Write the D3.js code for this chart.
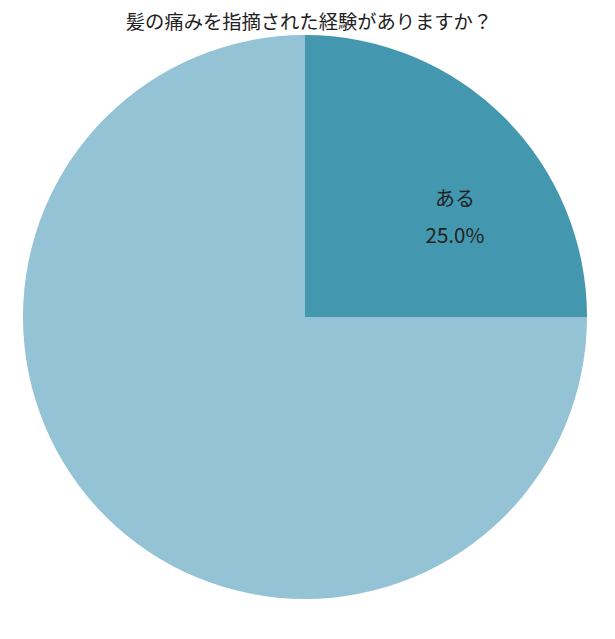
<!DOCTYPE html>
<html><head><meta charset="utf-8">
<script src="https://cdn.jsdelivr.net/npm/d3@7"></script>
<style>
html,body{margin:0;padding:0;background:#fff;}
text{font-family:"Noto Sans CJK JP","Noto Sans",sans-serif;}
</style></head>
<body><svg id="c" width="615" height="639"></svg>
<script>
const title = "髪の痛みを指摘された経験がありますか？";
const categories = ["ある", "ない"];
const values = [25.0, 75.0];
const colors = ["#4397ae", "#93c3d5"];
const showLabel = [true, false];

const svg = d3.select("#c");
const cx = 305, cy = 317, R = 282;

svg.append("text").attr("x", 309).attr("y", 29).attr("text-anchor", "middle")
  .attr("font-size", 19.3).attr("fill", "#222").text(title);

const data = categories.map((c, i) => ({cat: c, val: values[i], color: colors[i], show: showLabel[i]}));
const pie = d3.pie().sort(null).value(d => d.val);
const arc = d3.arc().innerRadius(0).outerRadius(R);
const g = svg.append("g").attr("transform", `translate(${cx},${cy})`);
const arcs = pie(data);
g.selectAll("path").data(arcs).join("path").attr("d", arc).attr("fill", d => d.data.color);

const labelArc = d3.arc().innerRadius(R * 0.752).outerRadius(R * 0.752);
const lab = g.selectAll("g.lab").data(arcs.filter(d => d.data.show)).join("g")
  .attr("transform", d => { const [x, y] = labelArc.centroid(d); return `translate(${x},${y * 0.67})`; });
lab.append("text").attr("text-anchor", "middle").attr("y", -11).attr("font-size", 20).attr("fill", "#222").text(d => d.data.cat);
lab.append("text").attr("text-anchor", "middle").attr("y", 26).attr("font-size", 20.5).attr("fill", "#222")
  .text(d => d3.format(".1f")(d.data.val) + "%");
</script></body></html>
